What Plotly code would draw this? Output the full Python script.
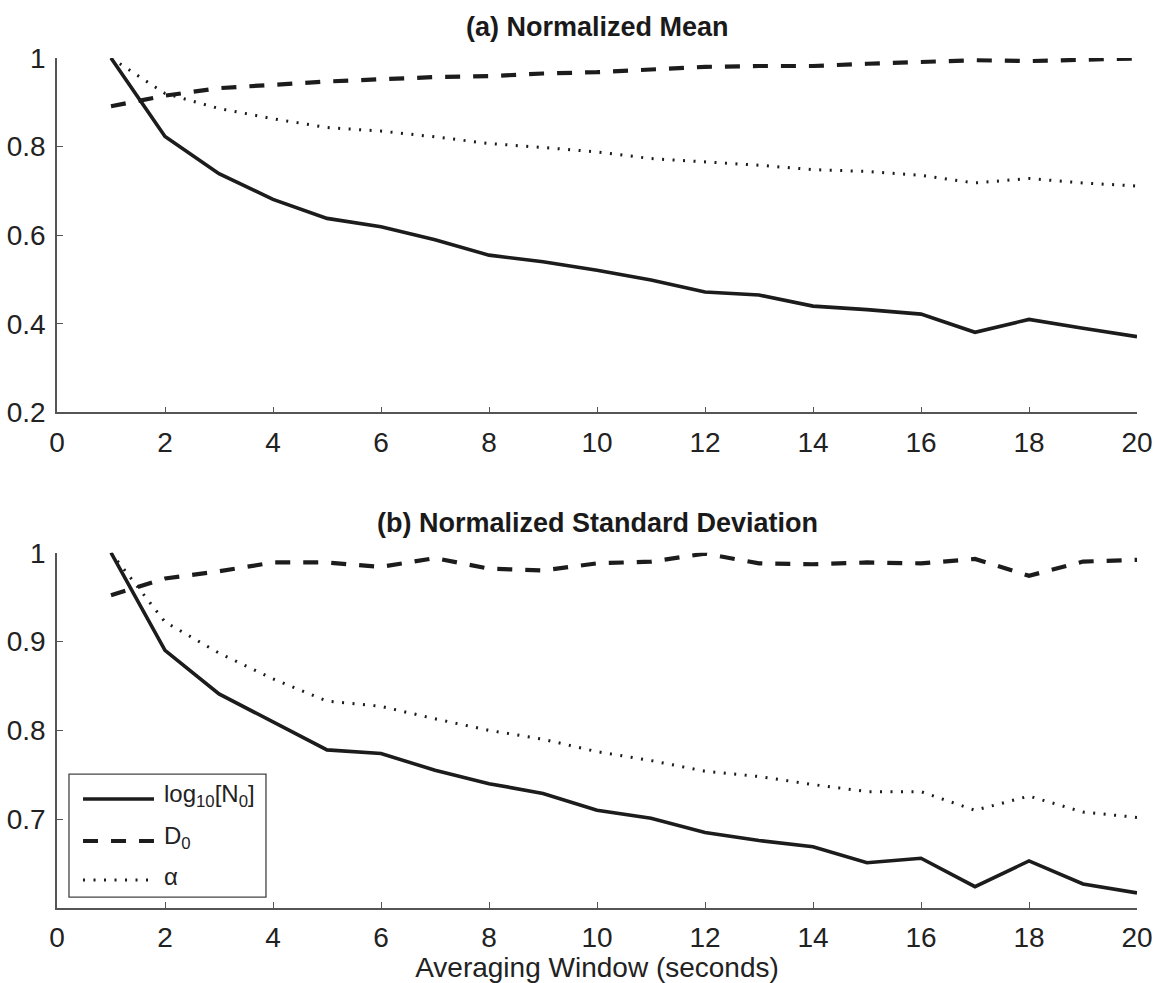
import plotly.graph_objects as go
from plotly.subplots import make_subplots

# Averaging window lengths (seconds)
window = list(range(1, 21))

# (a) Normalized mean of the fitted DSD parameters
mean_logN0 = [1.000, 0.823, 0.739, 0.681, 0.638, 0.619, 0.590, 0.555, 0.540, 0.521,
              0.499, 0.472, 0.465, 0.440, 0.432, 0.422, 0.381, 0.410, 0.390, 0.371]
mean_D0 = [0.891, 0.915, 0.932, 0.940, 0.947, 0.952, 0.957, 0.959, 0.965, 0.968,
           0.974, 0.980, 0.982, 0.982, 0.987, 0.990, 0.995, 0.993, 0.996, 0.999]
mean_alpha = [1.000, 0.920, 0.886, 0.863, 0.843, 0.835, 0.822, 0.807, 0.798, 0.788,
              0.773, 0.765, 0.758, 0.748, 0.744, 0.735, 0.718, 0.728, 0.718, 0.711]

# (b) Normalized standard deviation
std_logN0 = [1.000, 0.890, 0.841, 0.810, 0.778, 0.774, 0.755, 0.740, 0.729, 0.710,
             0.701, 0.685, 0.676, 0.669, 0.651, 0.656, 0.624, 0.653, 0.627, 0.617]
std_D0 = [0.952, 0.971, 0.979, 0.989, 0.989, 0.984, 0.994, 0.982, 0.980, 0.988,
          0.990, 0.999, 0.988, 0.987, 0.989, 0.988, 0.993, 0.974, 0.990, 0.992]
std_alpha = [1.000, 0.922, 0.887, 0.858, 0.833, 0.827, 0.813, 0.800, 0.790, 0.776,
             0.766, 0.754, 0.748, 0.739, 0.731, 0.731, 0.710, 0.726, 0.708, 0.702]

series_names = ["log<sub>10</sub>[N<sub>0</sub>]", "D<sub>0</sub>", "α"]
x_ticks = list(range(0, 21, 2))
top_y_ticks = [0.2, 0.4, 0.6, 0.8, 1.0]
bottom_y_ticks = [0.7, 0.8, 0.9, 1.0]

FONT = "Liberation Sans, Arial, Helvetica, sans-serif"
INK = "#1c1c1c"
AXIS = "#555555"

styles = [
    dict(color=INK, width=3.6, dash="solid"),
    dict(color=INK, width=4.2, dash="15px,13px"),
    dict(color=INK, width=3.0, dash="2px,8.5px"),
]

fig = make_subplots(rows=2, cols=1, vertical_spacing=0.165)

for row, ys in ((1, (mean_logN0, mean_D0, mean_alpha)), (2, (std_logN0, std_D0, std_alpha))):
    for name, y, st in zip(series_names, ys, styles):
        fig.add_trace(
            go.Scatter(x=window, y=y, mode="lines", name=name, line=st, showlegend=False),
            row=row, col=1,
        )

axis_common = dict(
    showline=True, linecolor=AXIS, linewidth=1.5,
    ticks="inside", ticklen=6, tickcolor=AXIS, tickwidth=1.2,
    showgrid=False, zeroline=False, mirror=False, automargin=False,
    tickfont=dict(family=FONT, size=28, color="#222222"),
)

fig.update_xaxes(range=[0, 20], tickvals=x_ticks, ticklabelstandoff=4, **axis_common)
fig.update_yaxes(ticklabelstandoff=4, **axis_common)
fig.update_yaxes(range=[0.2, 1.0], tickvals=top_y_ticks,
                 ticktext=["0.2", "0.4", "0.6", "0.8", "1"], domain=[0.583, 1.0], row=1, col=1)
fig.update_yaxes(range=[0.6, 1.0], tickvals=bottom_y_ticks,
                 ticktext=["0.7", "0.8", "0.9", "1"], domain=[0.0, 0.418], row=2, col=1)
fig.update_xaxes(title=dict(text="Averaging Window (seconds)",
                            font=dict(family=FONT, size=28, color="#222222"), standoff=2),
                 row=2, col=1)

# Panel titles
for text, ypos in (("<b>(a) Normalized Mean</b>", 1.0368), ("<b>(b) Normalized Standard Deviation</b>", 0.4535)):
    fig.add_annotation(text=text, xref="paper", yref="paper", x=0.5, y=ypos,
                       xanchor="center", yanchor="middle", showarrow=False,
                       font=dict(family=FONT, size=27, color="#1a1a1a"))

# Legend box inside panel (b)
fig.add_shape(type="rect", xref="paper", yref="paper",
              x0=0.0111, x1=0.1935, y0=0.0129, y1=0.1576,
              line=dict(color="#444444", width=1.3), fillcolor="white", layer="above")
legend_rows = [0.1282, 0.0788, 0.0329]
for name, st, ly in zip(series_names, styles, legend_rows):
    fig.add_shape(type="line", xref="paper", yref="paper",
                  x0=0.0241, x1=0.0898, y0=ly, y1=ly, layer="above",
                  line=dict(color=st["color"], width=st["width"], dash=st["dash"]))
    fig.add_annotation(text=name, xref="paper", yref="paper", x=0.0972, y=ly + 0.004,
                       xanchor="left", yanchor="middle", showarrow=False,
                       font=dict(family=FONT, size=24, color="#222222"))

fig.update_layout(
    width=1161, height=983,
    margin=dict(l=57, r=24, t=58, b=75),
    paper_bgcolor="white", plot_bgcolor="white",
    font=dict(family=FONT, color="#222222"),
    showlegend=False,
)

fig.write_html("out.html")
